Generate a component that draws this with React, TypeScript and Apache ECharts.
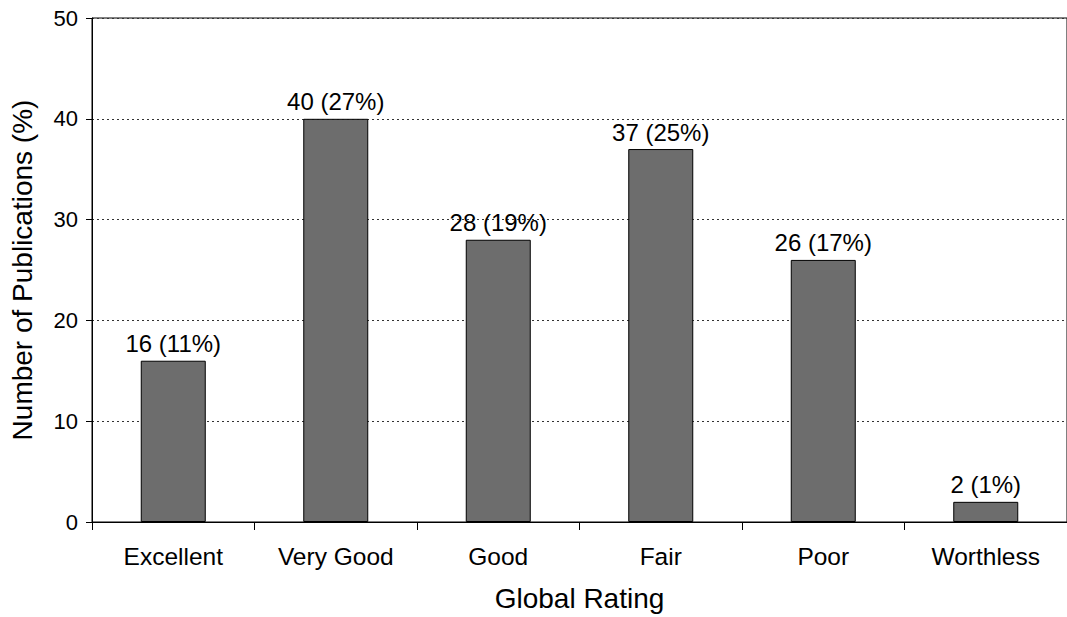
import React, { useEffect, useRef } from "react";
import * as echarts from "echarts";

// Global rating of the reviewed publications
const ratings = ["Excellent", "Very Good", "Good", "Fair", "Poor", "Worthless"];
const counts = [16, 40, 28, 37, 26, 2];
const shares = [11, 27, 19, 25, 17, 1];
const yTicks = { min: 0, max: 50, interval: 10 };

const FONT = "'Liberation Sans', Arial, Helvetica, sans-serif";

export default function App() {
  const ref = useRef<HTMLDivElement>(null);

  useEffect(() => {
    if (!ref.current) return;
    const chart = echarts.init(ref.current, null, { renderer: "svg" });
    chart.setOption({
      animation: false,
      backgroundColor: "#ffffff",
      textStyle: { fontFamily: FONT, color: "#000" },
      grid: {
        left: 91,
        top: 18,
        right: -13,
        bottom: 92,
        show: true,
        borderColor: "#000",
        borderWidth: 1,
        backgroundColor: "transparent",
      },
      xAxis: {
        type: "category",
        data: ratings,
        name: "Global Rating",
        nameLocation: "middle",
        nameGap: 62,
        nameTextStyle: { fontSize: 28, color: "#000", fontFamily: FONT },
        axisLine: { lineStyle: { color: "#000", width: 1 } },
        axisTick: { show: true, length: 8, lineStyle: { color: "#000" } },
        axisLabel: { fontSize: 24.5, color: "#000", margin: 22, fontFamily: FONT },
      },
      yAxis: {
        type: "value",
        min: yTicks.min,
        max: yTicks.max,
        interval: yTicks.interval,
        name: "Number of Publications (%)",
        nameLocation: "middle",
        nameGap: 56,
        nameTextStyle: { fontSize: 28, color: "#000", fontFamily: FONT },
        axisLine: { show: true, lineStyle: { color: "#000", width: 1 } },
        axisTick: { show: true, length: 6, lineStyle: { color: "#000" } },
        axisLabel: { fontSize: 22, color: "#000", margin: 14, fontFamily: FONT },
        splitLine: {
          show: true,
          lineStyle: { color: "#333", type: [2, 3], width: 1 },
        },
      },
      series: [
        {
          type: "bar",
          data: counts,
          barWidth: "40%",
          itemStyle: { color: "#6d6d6d", borderColor: "#000", borderWidth: 1 },
          label: {
            show: true,
            position: "top",
            distance: 5,
            fontSize: 24,
            color: "#000",
            fontFamily: FONT,
            formatter: (p: any) => `${counts[p.dataIndex]} (${shares[p.dataIndex]}%)`,
          },
        },
      ],
    });
    return () => chart.dispose();
  }, []);

  return (
    <div
      ref={ref}
      style={{ position: "fixed", left: 0, top: 0, width: 1067, height: 617 }}
    />
  );
}
